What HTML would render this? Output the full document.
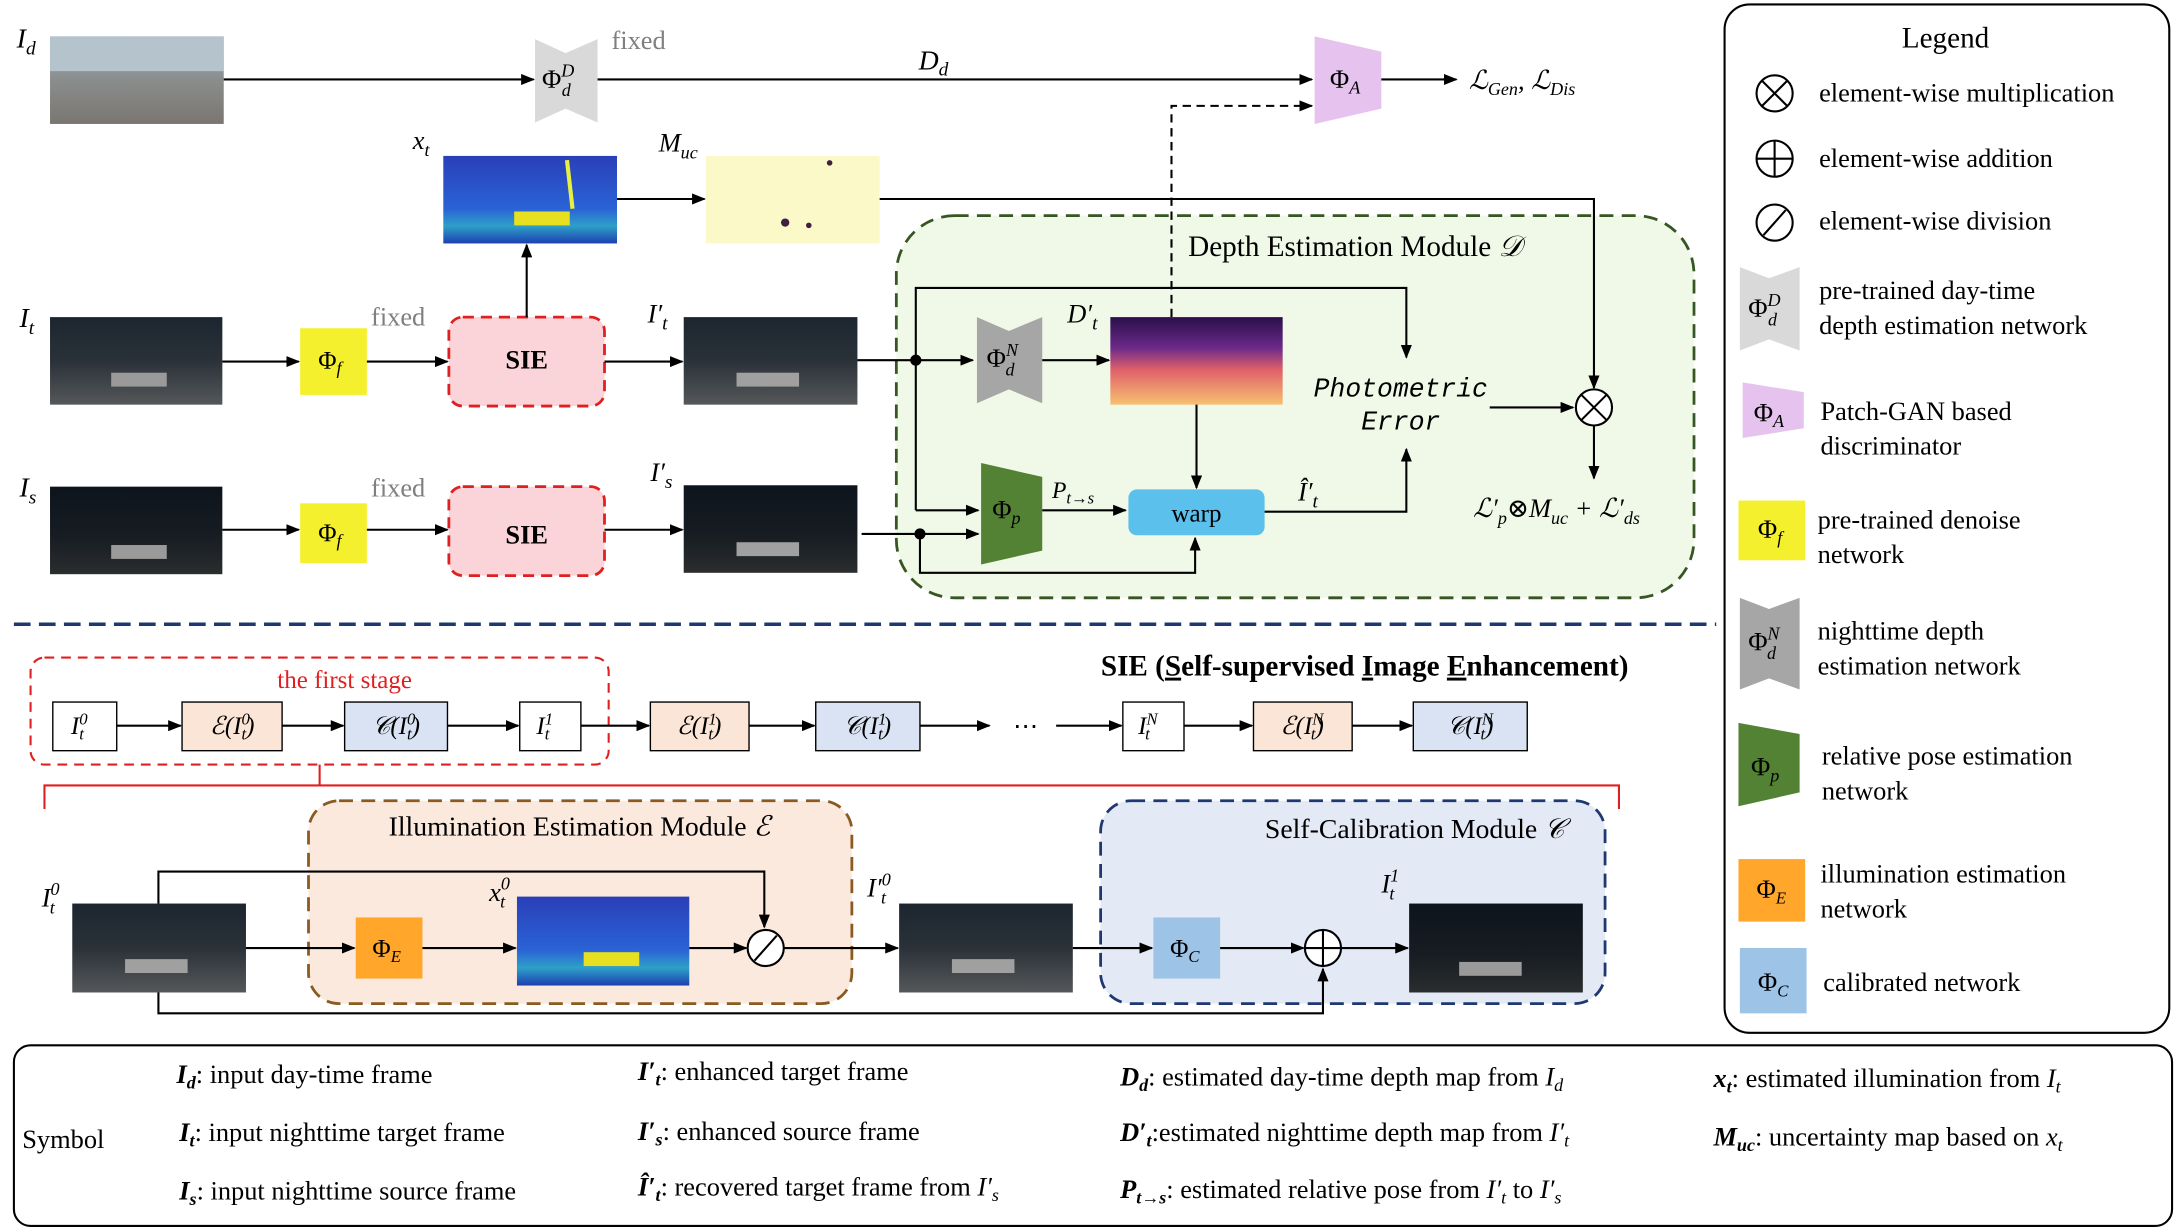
<!DOCTYPE html>
<html><head><meta charset="utf-8"><style>
html,body{margin:0;padding:0;background:#fff}
svg{display:block}
svg, svg text, svg tspan{font-family:"Liberation Serif","Times New Roman",Times,"DejaVu Serif",serif}
.i{font-style:italic}
.mono{font-family:"Liberation Mono","DejaVu Sans Mono",monospace !important;font-style:italic}
</style></head><body>
<svg width="2179" height="1229" viewBox="0 0 1568 884" xmlns="http://www.w3.org/2000/svg" font-family="'Liberation Serif', 'Times New Roman', Times, serif">
<defs>
<marker id="a" markerWidth="10" markerHeight="8" refX="9" refY="4" orient="auto" markerUnits="userSpaceOnUse"><path d="M0,0 L10,4 L0,8 z" fill="#000"/></marker>
<linearGradient id="night" x1="0" y1="0" x2="0" y2="1"><stop offset="0" stop-color="#1c2630"/><stop offset="0.5" stop-color="#2a3138"/><stop offset="1" stop-color="#55585a"/></linearGradient>
<linearGradient id="night2" x1="0" y1="0" x2="0" y2="1"><stop offset="0" stop-color="#0d141c"/><stop offset="0.55" stop-color="#161c22"/><stop offset="1" stop-color="#2b2d2e"/></linearGradient>
<linearGradient id="day" x1="0" y1="0" x2="0" y2="1"><stop offset="0" stop-color="#9fb0bd"/><stop offset="0.5" stop-color="#8a8d8c"/><stop offset="1" stop-color="#7a7672"/></linearGradient>
<linearGradient id="ill" x1="0" y1="0" x2="0" y2="1"><stop offset="0" stop-color="#2a3fb8"/><stop offset="0.6" stop-color="#2a62d6"/><stop offset="0.8" stop-color="#2ea0c8"/><stop offset="1" stop-color="#1d40b0"/></linearGradient>
<linearGradient id="dep" x1="0" y1="0" x2="0" y2="1"><stop offset="0" stop-color="#2a0f4a"/><stop offset="0.35" stop-color="#6a2a8a"/><stop offset="0.6" stop-color="#e0606a"/><stop offset="1" stop-color="#f7c070"/></linearGradient>
</defs>

<rect x="645" y="155" width="574" height="275" rx="42" fill="#f0f9e8" stroke="#375623" stroke-width="2" stroke-dasharray="10,6"/>
<text x="855" y="184" font-size="21">Depth Estimation Module <tspan class="i">𝒟</tspan></text>

<rect x="36" y="26" width="125" height="63" fill="url(#day)"/>
<rect x="36" y="26" width="125" height="25" fill="#b5c3cc"/>
<text x="12" y="34" font-size="20" class="i">I<tspan font-size="14" dy="5">d</tspan></text>
<line x1="161" y1="57" x2="384" y2="57" stroke="#000" stroke-width="1.5" marker-end="url(#a)"/>
<polygon points="385,28 407,38 430,28 430,88 407,78 385,88" fill="#d9d9d9"/>
<text x="390" y="63" font-size="19">Φ<tspan class="i" font-size="13" dy="-8">D</tspan><tspan class="i" font-size="13" dx="-9" dy="14">d</tspan></text>
<text x="440" y="35" font-size="19" style="fill:#7f7f7f">fixed</text>
<line x1="430" y1="57" x2="944" y2="57" stroke="#000" stroke-width="1.5" marker-end="url(#a)"/>
<text x="661" y="50" font-size="20" class="i">D<tspan font-size="14" dy="4">d</tspan></text>
<polygon points="946,26 994,37 994,78 946,89" fill="#e6c3ef"/>
<text x="957" y="63" font-size="19">Φ<tspan class="i" font-size="13" dy="4">A</tspan></text>
<line x1="994" y1="57" x2="1048" y2="57" stroke="#000" stroke-width="1.5" marker-end="url(#a)"/>
<text x="1057" y="64" font-size="19" class="i">ℒ<tspan font-size="13" dy="4">Gen</tspan><tspan dy="-4">, ℒ</tspan><tspan font-size="13" dy="4">Dis</tspan></text>
<polyline points="843,228 843,76 944,76" fill="none" stroke="#000" stroke-width="1.5" stroke-dasharray="6,4" marker-end="url(#a)"/>

<text x="297" y="107" font-size="19" class="i">x<tspan font-size="13" dy="5">t</tspan></text>
<rect x="319" y="112" width="125" height="63" fill="url(#ill)"/>
<rect x="370" y="152" width="40" height="10" fill="#e6e020"/>
<line x1="408" y1="115" x2="412" y2="150" stroke="#e6f040" stroke-width="3"/>
<text x="474" y="109" font-size="19" class="i">M<tspan font-size="13" dy="5">uc</tspan></text>
<rect x="508" y="112" width="125" height="63" fill="#fbf9c8"/>
<circle cx="597" cy="117" r="2" fill="#402040"/><circle cx="565" cy="160" r="3" fill="#402040"/><circle cx="582" cy="162" r="2" fill="#402040"/>
<line x1="444" y1="143" x2="507" y2="143" stroke="#000" stroke-width="1.5" marker-end="url(#a)"/>
<polyline points="633,143 1147,143 1147,279" fill="none" stroke="#000" stroke-width="1.5" marker-end="url(#a)"/>

<text x="14" y="235" font-size="20" class="i">I<tspan font-size="14" dy="5">t</tspan></text>
<rect x="36" y="228" width="124" height="63" fill="url(#night)"/>
<rect x="80" y="268" width="40" height="10" fill="#9a9a9a"/>
<line x1="160" y1="260" x2="215" y2="260" stroke="#000" stroke-width="1.5" marker-end="url(#a)"/>
<rect x="216" y="236" width="48" height="48" fill="#f5f02e"/>
<text x="229" y="265" font-size="18">Φ<tspan class="i" font-size="13" dy="4">f</tspan></text>
<text x="267" y="234" font-size="19" style="fill:#7f7f7f">fixed</text>
<line x1="264" y1="260" x2="322" y2="260" stroke="#000" stroke-width="1.5" marker-end="url(#a)"/>
<rect x="323" y="228" width="112" height="64" rx="10" fill="#fad4d8" stroke="#e02020" stroke-width="2" stroke-dasharray="8,5"/>
<text x="379" y="265" font-size="19" font-weight="bold" text-anchor="middle">SIE</text>
<line x1="379" y1="228" x2="379" y2="176" stroke="#000" stroke-width="1.5" marker-end="url(#a)"/>
<line x1="435" y1="260" x2="491" y2="260" stroke="#000" stroke-width="1.5" marker-end="url(#a)"/>
<text x="466" y="232" font-size="19" class="i">I′<tspan font-size="14" dy="5">t</tspan></text>
<rect x="492" y="228" width="125" height="63" fill="url(#night)"/>
<rect x="530" y="268" width="45" height="10" fill="#a0a0a0"/>
<line x1="617" y1="259" x2="700" y2="259" stroke="#000" stroke-width="1.5" marker-end="url(#a)"/>
<circle cx="659" cy="259" r="4" fill="#000"/>
<polygon points="703,228 726,238 750,228 750,290 726,280 703,290" fill="#a6a6a6"/>
<text x="710" y="264" font-size="19">Φ<tspan class="i" font-size="13" dy="-8">N</tspan><tspan class="i" font-size="13" dx="-9" dy="14">d</tspan></text>
<line x1="750" y1="259" x2="798" y2="259" stroke="#000" stroke-width="1.5" marker-end="url(#a)"/>
<text x="768" y="232" font-size="19" class="i">D′<tspan font-size="14" dy="5">t</tspan></text>
<rect x="799" y="228" width="124" height="63" fill="url(#dep)"/>
<polyline points="659,259 659,207 1012,207 1012,257" fill="none" stroke="#000" stroke-width="1.5" marker-end="url(#a)"/>
<text x="1008" y="285" font-size="19" text-anchor="middle" class="mono">Photometric</text>
<text x="1008" y="309" font-size="19" text-anchor="middle" class="mono">Error</text>
<line x1="1072" y1="293" x2="1132" y2="293" stroke="#000" stroke-width="1.5" marker-end="url(#a)"/>
<circle cx="1147" cy="293" r="13" fill="#fff" stroke="#000" stroke-width="1.5"/>
<line x1="1138" y1="284" x2="1156" y2="302" stroke="#000" stroke-width="1.5"/><line x1="1156" y1="284" x2="1138" y2="302" stroke="#000" stroke-width="1.5"/>
<line x1="1147" y1="306" x2="1147" y2="344" stroke="#000" stroke-width="1.5" marker-end="url(#a)"/>
<text x="1060" y="372" font-size="19" class="i">ℒ′<tspan font-size="13" dy="5">p</tspan><tspan dy="-5">⊗M</tspan><tspan font-size="13" dy="5">uc</tspan><tspan dy="-5"> + ℒ′</tspan><tspan font-size="13" dy="5">ds</tspan></text>
<line x1="861" y1="291" x2="861" y2="351" stroke="#000" stroke-width="1.5" marker-end="url(#a)"/>

<text x="14" y="357" font-size="20" class="i">I<tspan font-size="14" dy="5">s</tspan></text>
<rect x="36" y="350" width="124" height="63" fill="url(#night2)"/>
<rect x="80" y="392" width="40" height="10" fill="#9a9a9a"/>
<line x1="160" y1="381" x2="215" y2="381" stroke="#000" stroke-width="1.5" marker-end="url(#a)"/>
<rect x="216" y="362" width="48" height="43" fill="#f5f02e"/>
<text x="229" y="389" font-size="18">Φ<tspan class="i" font-size="13" dy="4">f</tspan></text>
<text x="267" y="357" font-size="19" style="fill:#7f7f7f">fixed</text>
<line x1="264" y1="381" x2="322" y2="381" stroke="#000" stroke-width="1.5" marker-end="url(#a)"/>
<rect x="323" y="350" width="112" height="64" rx="10" fill="#fad4d8" stroke="#e02020" stroke-width="2" stroke-dasharray="8,5"/>
<text x="379" y="391" font-size="19" font-weight="bold" text-anchor="middle">SIE</text>
<line x1="435" y1="381" x2="491" y2="381" stroke="#000" stroke-width="1.5" marker-end="url(#a)"/>
<text x="468" y="346" font-size="19" class="i">I′<tspan font-size="14" dy="5">s</tspan></text>
<rect x="492" y="349" width="125" height="63" fill="url(#night2)"/>
<rect x="530" y="390" width="45" height="10" fill="#a0a0a0"/>
<line x1="620" y1="384" x2="704" y2="384" stroke="#000" stroke-width="1.5" marker-end="url(#a)"/>
<circle cx="662" cy="384" r="4" fill="#000"/>
<line x1="659" y1="259" x2="659" y2="367" stroke="#000" stroke-width="1.5"/>
<line x1="659" y1="367" x2="704" y2="367" stroke="#000" stroke-width="1.5" marker-end="url(#a)"/>
<polygon points="706,333 750,343 750,396 706,406" fill="#548235"/>
<text x="714" y="373" font-size="19">Φ<tspan class="i" font-size="13" dy="4">p</tspan></text>
<line x1="750" y1="367" x2="810" y2="367" stroke="#000" stroke-width="1.5" marker-end="url(#a)"/>
<text x="757" y="358" font-size="17" class="i">P<tspan font-size="12" dy="4">t→s</tspan></text>
<polyline points="662,384 662,412 860,412 860,387" fill="none" stroke="#000" stroke-width="1.5" marker-end="url(#a)"/>
<rect x="812" y="352" width="98" height="33" rx="6" fill="#5bc0eb"/>
<text x="861" y="375" font-size="18" text-anchor="middle">warp</text>
<polyline points="910,368 1012,368 1012,323" fill="none" stroke="#000" stroke-width="1.5" marker-end="url(#a)"/>
<text x="934" y="360" font-size="19" class="i">Î′<tspan font-size="14" dy="5">t</tspan></text>

<line x1="10" y1="449" x2="1235" y2="449" stroke="#1f3870" stroke-width="2.5" stroke-dasharray="12,6"/>

<rect x="22" y="473" width="416" height="77" rx="10" fill="none" stroke="#e02020" stroke-width="1.5" stroke-dasharray="7,5"/>
<text x="248" y="495" font-size="18" text-anchor="middle" style="fill:#e02020">the first stage</text>
<text x="982" y="486" font-size="21" font-weight="bold" text-anchor="middle">SIE (<tspan text-decoration="underline">S</tspan>elf-supervised <tspan text-decoration="underline">I</tspan>mage <tspan text-decoration="underline">E</tspan>nhancement)</text>
<g font-size="18" stroke-width="1">
<rect x="38" y="505" width="46" height="35" fill="#fff" stroke="#000"/><text x="51" y="528" class="i">I<tspan font-size="12" dy="-7">0</tspan><tspan font-size="12" dx="-6" dy="11">t</tspan></text>
<rect x="131" y="505" width="72" height="35" fill="#fbe5d6" stroke="#000"/><text x="167" y="528" text-anchor="middle" class="i">ℰ(I<tspan font-size="12" dy="-7">0</tspan><tspan font-size="12" dx="-6" dy="11">t</tspan><tspan dy="-4">)</tspan></text>
<rect x="248" y="505" width="74" height="35" fill="#dae3f3" stroke="#000"/><text x="285" y="528" text-anchor="middle" class="i">𝒞(I<tspan font-size="12" dy="-7">0</tspan><tspan font-size="12" dx="-6" dy="11">t</tspan><tspan dy="-4">)</tspan></text>
<rect x="374" y="505" width="44" height="35" fill="#fff" stroke="#000"/><text x="386" y="528" class="i">I<tspan font-size="12" dy="-7">1</tspan><tspan font-size="12" dx="-6" dy="11">t</tspan></text>
<rect x="468" y="505" width="71" height="35" fill="#fbe5d6" stroke="#000"/><text x="503" y="528" text-anchor="middle" class="i">ℰ(I<tspan font-size="12" dy="-7">1</tspan><tspan font-size="12" dx="-6" dy="11">t</tspan><tspan dy="-4">)</tspan></text>
<rect x="587" y="505" width="75" height="35" fill="#dae3f3" stroke="#000"/><text x="624" y="528" text-anchor="middle" class="i">𝒞(I<tspan font-size="12" dy="-7">1</tspan><tspan font-size="12" dx="-6" dy="11">t</tspan><tspan dy="-4">)</tspan></text>
<text x="738" y="528" text-anchor="middle">⋯</text>
<rect x="808" y="505" width="44" height="35" fill="#fff" stroke="#000"/><text x="819" y="528" class="i">I<tspan font-size="12" dy="-7">N</tspan><tspan font-size="12" dx="-9" dy="11">t</tspan></text>
<rect x="902" y="505" width="71" height="35" fill="#fbe5d6" stroke="#000"/><text x="937" y="528" text-anchor="middle" class="i">ℰ(I<tspan font-size="12" dy="-7">N</tspan><tspan font-size="12" dx="-9" dy="11">t</tspan><tspan dy="-4">)</tspan></text>
<rect x="1017" y="505" width="82" height="35" fill="#dae3f3" stroke="#000"/><text x="1058" y="528" text-anchor="middle" class="i">𝒞(I<tspan font-size="12" dy="-7">N</tspan><tspan font-size="12" dx="-9" dy="11">t</tspan><tspan dy="-4">)</tspan></text>
</g>
<g stroke="#000" stroke-width="1.5">
<line x1="84" y1="522" x2="130" y2="522" marker-end="url(#a)"/>
<line x1="203" y1="522" x2="247" y2="522" marker-end="url(#a)"/>
<line x1="322" y1="522" x2="373" y2="522" marker-end="url(#a)"/>
<line x1="418" y1="522" x2="467" y2="522" marker-end="url(#a)"/>
<line x1="539" y1="522" x2="586" y2="522" marker-end="url(#a)"/>
<line x1="662" y1="522" x2="712" y2="522" marker-end="url(#a)"/>
<line x1="760" y1="522" x2="807" y2="522" marker-end="url(#a)"/>
<line x1="852" y1="522" x2="901" y2="522" marker-end="url(#a)"/>
<line x1="973" y1="522" x2="1016" y2="522" marker-end="url(#a)"/>
</g>
<polyline points="230,550 230,565" fill="none" stroke="#e02020" stroke-width="1.5"/>
<polyline points="32,582 32,565 1165,565 1165,582" fill="none" stroke="#e02020" stroke-width="1.5"/>

<rect x="222" y="576" width="391" height="146" rx="22" fill="#fbe9dd" stroke="#8a5a20" stroke-width="2" stroke-dasharray="10,6"/>
<text x="417" y="601" font-size="20" text-anchor="middle">Illumination Estimation Module <tspan class="i">ℰ</tspan></text>
<rect x="792" y="576" width="363" height="146" rx="22" fill="#e3e9f5" stroke="#1f3870" stroke-width="2" stroke-dasharray="10,6"/>
<text x="1018" y="603" font-size="20" text-anchor="middle">Self-Calibration Module <tspan class="i">𝒞</tspan></text>

<text x="30" y="652" font-size="19" class="i">I<tspan font-size="13" dy="-8">0</tspan><tspan font-size="13" dx="-7" dy="13">t</tspan></text>
<rect x="52" y="650" width="125" height="64" fill="url(#night)"/>
<rect x="90" y="690" width="45" height="10" fill="#a0a0a0"/>
<polyline points="114,650 114,627 550,627 550,667" fill="none" stroke="#000" stroke-width="1.5" marker-end="url(#a)"/>
<line x1="177" y1="682" x2="255" y2="682" stroke="#000" stroke-width="1.5" marker-end="url(#a)"/>
<rect x="256" y="660" width="48" height="44" fill="#ffa62b"/>
<text x="268" y="688" font-size="18">Φ<tspan class="i" font-size="12" dy="4">E</tspan></text>
<line x1="304" y1="682" x2="371" y2="682" stroke="#000" stroke-width="1.5" marker-end="url(#a)"/>
<text x="352" y="648" font-size="19" class="i">x<tspan font-size="13" dy="-8">0</tspan><tspan font-size="13" dx="-7" dy="13">t</tspan></text>
<rect x="372" y="645" width="124" height="64" fill="url(#ill)"/>
<rect x="420" y="685" width="40" height="10" fill="#e6e020"/>
<line x1="496" y1="682" x2="537" y2="682" stroke="#000" stroke-width="1.5" marker-end="url(#a)"/>
<circle cx="551" cy="682" r="13" fill="#fff" stroke="#000" stroke-width="1.5"/>
<line x1="543" y1="691" x2="559" y2="673" stroke="#000" stroke-width="1.5"/>
<line x1="564" y1="682" x2="646" y2="682" stroke="#000" stroke-width="1.5" marker-end="url(#a)"/>
<text x="624" y="645" font-size="19" class="i">I′<tspan font-size="13" dy="-8">0</tspan><tspan font-size="13" dx="-7" dy="13">t</tspan></text>
<rect x="647" y="650" width="125" height="64" fill="url(#night)"/>
<rect x="685" y="690" width="45" height="10" fill="#a0a0a0"/>
<line x1="772" y1="682" x2="829" y2="682" stroke="#000" stroke-width="1.5" marker-end="url(#a)"/>
<rect x="830" y="660" width="48" height="44" fill="#9dc3e6"/>
<text x="842" y="688" font-size="18">Φ<tspan class="i" font-size="12" dy="4">C</tspan></text>
<line x1="878" y1="682" x2="938" y2="682" stroke="#000" stroke-width="1.5" marker-end="url(#a)"/>
<circle cx="952" cy="682" r="13" fill="#fff" stroke="#000" stroke-width="1.5"/>
<line x1="939" y1="682" x2="965" y2="682" stroke="#000" stroke-width="1.5"/><line x1="952" y1="669" x2="952" y2="695" stroke="#000" stroke-width="1.5"/>
<polyline points="114,714 114,729 952,729 952,697" fill="none" stroke="#000" stroke-width="1.5" marker-end="url(#a)"/>
<line x1="965" y1="682" x2="1013" y2="682" stroke="#000" stroke-width="1.5" marker-end="url(#a)"/>
<text x="994" y="642" font-size="19" class="i">I<tspan font-size="13" dy="-8">1</tspan><tspan font-size="13" dx="-7" dy="13">t</tspan></text>
<rect x="1014" y="650" width="125" height="64" fill="url(#night2)"/>
<rect x="1050" y="692" width="45" height="10" fill="#9a9a9a"/>

<rect x="1241" y="3" width="320" height="740" rx="18" fill="#fff" stroke="#000" stroke-width="1.5"/>
<text x="1400" y="34" font-size="21" text-anchor="middle">Legend</text>
<g font-size="19">
<circle cx="1277" cy="67" r="13" fill="none" stroke="#000" stroke-width="1.5"/><line x1="1268" y1="58" x2="1286" y2="76" stroke="#000" stroke-width="1.5"/><line x1="1286" y1="58" x2="1268" y2="76" stroke="#000" stroke-width="1.5"/>
<text x="1309" y="73">element-wise multiplication</text>
<circle cx="1277" cy="114" r="13" fill="none" stroke="#000" stroke-width="1.5"/><line x1="1264" y1="114" x2="1290" y2="114" stroke="#000" stroke-width="1.5"/><line x1="1277" y1="101" x2="1277" y2="127" stroke="#000" stroke-width="1.5"/>
<text x="1309" y="120">element-wise addition</text>
<circle cx="1277" cy="160" r="13" fill="none" stroke="#000" stroke-width="1.5"/><line x1="1269" y1="169" x2="1285" y2="151" stroke="#000" stroke-width="1.5"/>
<text x="1309" y="165">element-wise division</text>
<polygon points="1252,192 1273,200 1295,192 1295,252 1273,244 1252,252" fill="#d9d9d9"/>
<text x="1258" y="228">Φ<tspan class="i" font-size="13" dy="-8">D</tspan><tspan class="i" font-size="13" dx="-9" dy="14">d</tspan></text>
<text x="1309" y="215">pre-trained day-time</text><text x="1309" y="240">depth estimation network</text>
<polygon points="1254,275 1298,282 1298,308 1254,315" fill="#e6c3ef"/>
<text x="1262" y="303">Φ<tspan class="i" font-size="13" dy="4">A</tspan></text>
<text x="1310" y="302">Patch-GAN based</text><text x="1310" y="327">discriminator</text>
<rect x="1251" y="360" width="48" height="43" fill="#f5f02e"/>
<text x="1265" y="387">Φ<tspan class="i" font-size="13" dy="4">f</tspan></text>
<text x="1308" y="380">pre-trained denoise</text><text x="1308" y="405">network</text>
<polygon points="1252,430 1273,438 1295,430 1295,496 1273,488 1252,496" fill="#a6a6a6"/>
<text x="1258" y="468">Φ<tspan class="i" font-size="13" dy="-8">N</tspan><tspan class="i" font-size="13" dx="-9" dy="14">d</tspan></text>
<text x="1308" y="460">nighttime depth</text><text x="1308" y="485">estimation network</text>
<polygon points="1251,520 1295,528 1295,570 1251,580" fill="#548235"/>
<text x="1260" y="558">Φ<tspan class="i" font-size="13" dy="4">p</tspan></text>
<text x="1311" y="550">relative pose estimation</text><text x="1311" y="575">network</text>
<rect x="1251" y="618" width="48" height="45" fill="#ffa62b"/>
<text x="1264" y="646">Φ<tspan class="i" font-size="12" dy="4">E</tspan></text>
<text x="1310" y="635">illumination estimation</text><text x="1310" y="660">network</text>
<rect x="1252" y="682" width="48" height="47" fill="#9dc3e6"/>
<text x="1265" y="713">Φ<tspan class="i" font-size="12" dy="4">C</tspan></text>
<text x="1312" y="713">calibrated network</text>
</g>

<rect x="10" y="752" width="1553" height="130" rx="12" fill="#fff" stroke="#000" stroke-width="1.5"/>
<g font-size="19">
<text x="16" y="826">Symbol</text>
<text x="127" y="779"><tspan class="i" font-weight="bold">I<tspan font-size="13" dy="4">d</tspan></tspan><tspan dy="-4">: input day-time frame</tspan></text>
<text x="129" y="821"><tspan class="i" font-weight="bold">I<tspan font-size="13" dy="4">t</tspan></tspan><tspan dy="-4">: input nighttime target frame</tspan></text>
<text x="129" y="863"><tspan class="i" font-weight="bold">I<tspan font-size="13" dy="4">s</tspan></tspan><tspan dy="-4">: input nighttime source frame</tspan></text>
<text x="459" y="777"><tspan class="i" font-weight="bold">I′<tspan font-size="13" dy="4">t</tspan></tspan><tspan dy="-4">: enhanced target frame</tspan></text>
<text x="459" y="820"><tspan class="i" font-weight="bold">I′<tspan font-size="13" dy="4">s</tspan></tspan><tspan dy="-4">: enhanced source frame</tspan></text>
<text x="459" y="860"><tspan class="i" font-weight="bold">Î′<tspan font-size="13" dy="4">t</tspan></tspan><tspan dy="-4">: recovered target frame from </tspan><tspan class="i">I′<tspan font-size="13" dy="4">s</tspan></tspan></text>
<text x="806" y="781"><tspan class="i" font-weight="bold">D<tspan font-size="13" dy="4">d</tspan></tspan><tspan dy="-4">: estimated day-time depth map from </tspan><tspan class="i">I<tspan font-size="13" dy="4">d</tspan></tspan></text>
<text x="806" y="821"><tspan class="i" font-weight="bold">D′<tspan font-size="13" dy="4">t</tspan></tspan><tspan dy="-4">:estimated nighttime depth map from </tspan><tspan class="i">I′<tspan font-size="13" dy="4">t</tspan></tspan></text>
<text x="806" y="862"><tspan class="i" font-weight="bold">P<tspan font-size="13" dy="4">t→s</tspan></tspan><tspan dy="-4">: estimated relative pose from </tspan><tspan class="i">I′<tspan font-size="13" dy="4">t</tspan></tspan><tspan dy="-4"> to </tspan><tspan class="i">I′<tspan font-size="13" dy="4">s</tspan></tspan></text>
<text x="1233" y="782"><tspan class="i" font-weight="bold">x<tspan font-size="13" dy="4">t</tspan></tspan><tspan dy="-4">: estimated illumination from </tspan><tspan class="i">I<tspan font-size="13" dy="4">t</tspan></tspan></text>
<text x="1233" y="824"><tspan class="i" font-weight="bold">M<tspan font-size="13" dy="4">uc</tspan></tspan><tspan dy="-4">: uncertainty map based on </tspan><tspan class="i">x<tspan font-size="13" dy="4">t</tspan></tspan></text>
</g>
</svg>
</body></html>
